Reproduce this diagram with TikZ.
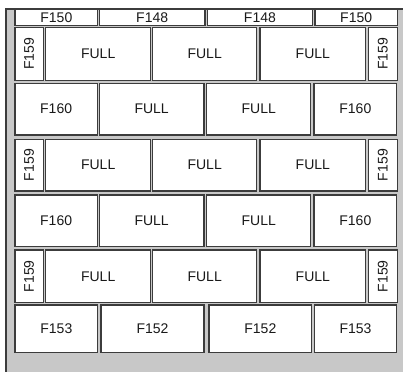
\documentclass[tikz,border=0pt]{standalone}
\usepackage{fontspec}
\usepackage{graphicx}
\setmainfont{Liberation Sans}
\definecolor{panelgray}{RGB}{200,200,200}
\definecolor{edgegray}{RGB}{60,60,60}
\definecolor{txt}{RGB}{25,25,25}
\newcommand\brk[6]{%
  \node[brick, minimum width={#4pt-#2pt}, minimum height={#5pt-#3pt}]
    (#1) at ({(#2+#4)/2},{(#3+#5)/2}) {#6};}
\newcommand\upr[1]{\rotatebox{90}{#1}}
\begin{document}
\begin{tikzpicture}[x=1pt,y=-1pt,
  brick/.style={draw=edgegray, line width=1.3pt, fill=white, inner sep=0pt,
    outer sep=0pt, text=txt, font=\fontsize{14}{16}\selectfont},
  panel/.style={fill=panelgray},
  paneledge/.style={draw=edgegray, line width=1.2pt}]
\useasboundingbox (0,0) rectangle (403,371);
\fill[panel] (6,9) rectangle (410,380);
\coordinate (pbl) at (6,380);
\coordinate (ptl) at (6,9);
\coordinate (ptr) at (410,9);
\draw[paneledge] (pbl) -- (ptl) -- (ptr);
% top row
\brk{a1}{15}{9.5}{97.7}{25.3}{F150}
\brk{a2}{99.3}{9.5}{205}{25.3}{F148}
\brk{a3}{207.5}{9.5}{312.3}{25.3}{F148}
\brk{a4}{315}{9.5}{397.3}{25.3}{F150}
% row 1
\brk{b1}{15}{27.7}{43.3}{80.3}{\upr{F159}}
\brk{b2}{45.7}{27.7}{150.7}{80.3}{FULL}
\brk{b3}{152.7}{27.7}{256.7}{80.3}{FULL}
\brk{b4}{260}{27.7}{365.7}{80.3}{FULL}
\brk{b5}{368.3}{27.7}{397.3}{80.3}{\upr{F159}}
% row 2
\brk{c1}{15}{83.3}{97.3}{135}{F160}
\brk{c2}{99.3}{83.3}{204}{135}{FULL}
\brk{c3}{206.7}{83.3}{310.7}{135}{FULL}
\brk{c4}{314}{83.3}{396.7}{135}{F160}
% row 3
\brk{d1}{15}{139.3}{43.3}{191}{\upr{F159}}
\brk{d2}{45.7}{139.3}{150.7}{191}{FULL}
\brk{d3}{152.7}{139.3}{256.7}{191}{FULL}
\brk{d4}{260}{139.3}{365.7}{191}{FULL}
\brk{d5}{368.3}{139.3}{397.3}{191}{\upr{F159}}
% row 4
\brk{e1}{15}{195}{97.3}{246.7}{F160}
\brk{e2}{99.3}{195}{204}{246.7}{FULL}
\brk{e3}{206.7}{195}{310.7}{246.7}{FULL}
\brk{e4}{314}{195}{396.7}{246.7}{F160}
% row 5
\brk{f1}{15}{250}{43.3}{302.7}{\upr{F159}}
\brk{f2}{45.7}{250}{150.7}{302.7}{FULL}
\brk{f3}{152.7}{250}{256.7}{302.7}{FULL}
\brk{f4}{260}{250}{365.7}{302.7}{FULL}
\brk{f5}{368.3}{250}{397.3}{302.7}{\upr{F159}}
% row 6
\brk{g1}{15}{305}{97.7}{352.3}{F153}
\brk{g2}{101}{305}{204}{352.3}{F152}
\brk{g3}{209}{305}{311.7}{352.3}{F152}
\brk{g4}{314.3}{305}{396.7}{352.3}{F153}
\end{tikzpicture}
\end{document}
